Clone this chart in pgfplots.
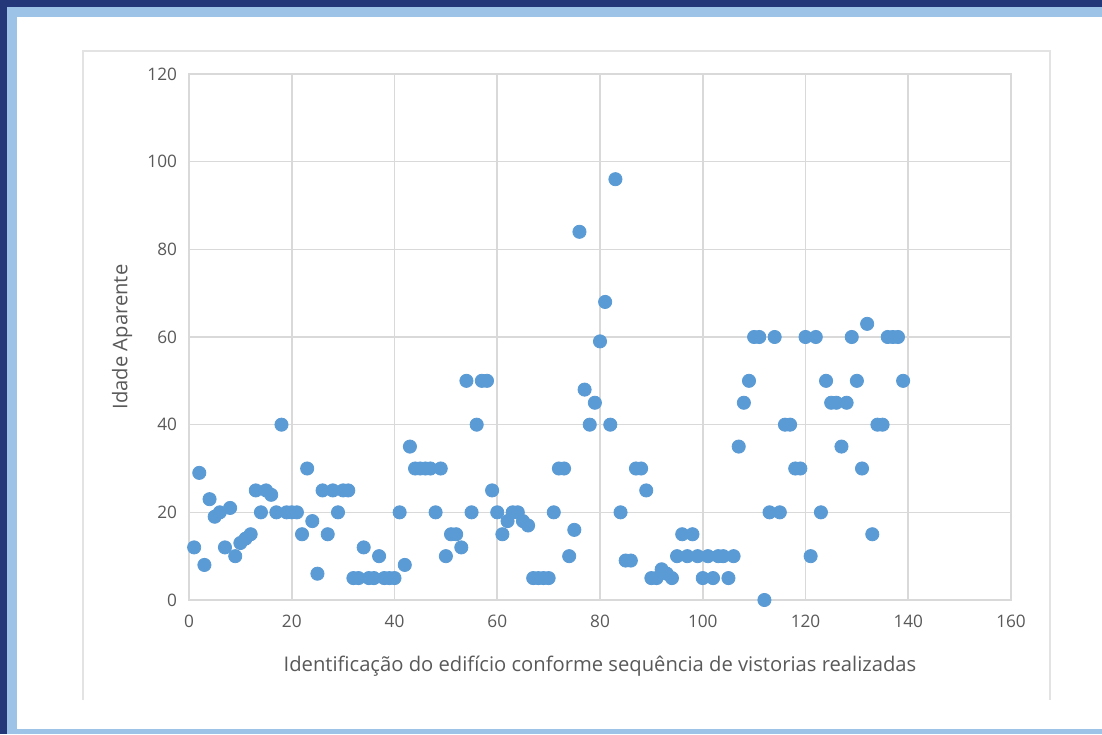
\documentclass[border=0pt]{standalone}
\usepackage{fontspec}
\setmainfont{Open Sans}
\usepackage{pgfplots}
\usepackage{pgfplotstable}
\pgfplotsset{compat=1.18}
\definecolor{darkframe}{HTML}{243778}
\definecolor{lightframe}{HTML}{9DC3E6}
\definecolor{dot}{HTML}{5B9BD5}
\definecolor{gridc}{HTML}{D9D9D9}
\definecolor{txt}{HTML}{595959}
\definecolor{areac}{HTML}{E3E3E3}

\pgfplotstableread{
x y
1 12
2 29
3 8
4 23
5 19
6 20
7 12
8 21
9 10
10 13
11 14
12 15
13 25
14 20
15 25
16 24
17 20
18 40
19 20
20 20
21 20
22 15
23 30
24 18
25 6
26 25
27 15
28 25
29 20
30 25
31 25
32 5
33 5
34 12
35 5
36 5
37 10
38 5
39 5
40 5
41 20
42 8
43 35
44 30
45 30
46 30
47 30
48 20
49 30
50 10
51 15
52 15
53 12
54 50
55 20
56 40
57 50
58 50
59 25
60 20
61 15
62 18
63 20
64 20
65 18
66 17
67 5
68 5
69 5
70 5
71 20
72 30
73 30
74 10
75 16
76 84
77 48
78 40
79 45
80 59
81 68
82 40
83 96
84 20
85 9
86 9
87 30
88 30
89 25
90 5
91 5
92 7
93 6
94 5
95 10
96 15
97 10
98 15
99 10
100 5
101 10
102 5
103 10
104 10
105 5
106 10
107 35
108 45
109 50
110 60
111 60
112 0
113 20
114 60
115 20
116 40
117 40
118 30
119 30
120 60
121 10
122 60
123 20
124 50
125 45
126 45
127 35
128 45
129 60
130 50
131 30
132 63
133 15
134 40
135 40
136 60
137 60
138 60
139 50
}\datatable

\begin{document}
\begin{tikzpicture}
% frame
\fill[darkframe] (0pt,0pt) rectangle (551pt,367pt);
\fill[lightframe] (3.5pt,0pt) rectangle (551pt,363.5pt);
\fill[white] (8.5pt,2.5pt) rectangle (551pt,358.5pt);
\draw[areac, line width=0.8pt] (41.5pt,17pt) -- (41.5pt,341.5pt) -- (525pt,341.5pt) -- (525pt,17pt);
\begin{axis}[
  at={(94.5pt,67pt)}, anchor=south west,
  scale only axis, width=411pt, height=263pt,
  xmin=0, xmax=160, ymin=0, ymax=120,
  xtick distance=20, ytick distance=20,
  grid=major, major grid style={gridc, line width=0.8pt},
  axis line style={gridc, line width=0.8pt},
  tick style={draw=none},
  /pgf/number format/assume math mode=true,
  ticklabel style={font=\fontsize{8.6}{10}\selectfont, text=txt},
  xticklabel style={yshift=-4pt},
  yticklabel style={xshift=-2.5pt},
  xlabel={Identificação do edifício conforme sequência de vistorias realizadas},
  ylabel={Idade Aparente},
  label style={font=\fontsize{10.1}{12}\selectfont, text=txt},
  xlabel style={at={(axis description cs:0.5,-0.1255)}, anchor=center},
  ylabel style={at={(axis description cs:-0.0815,0.5)}, anchor=center, rotate=0},
]
\addplot[only marks, mark=*, mark size=3.3pt, mark options={draw=dot, fill=dot}] table[x=x,y=y] {\datatable};
\end{axis}
\end{tikzpicture}
\end{document}
